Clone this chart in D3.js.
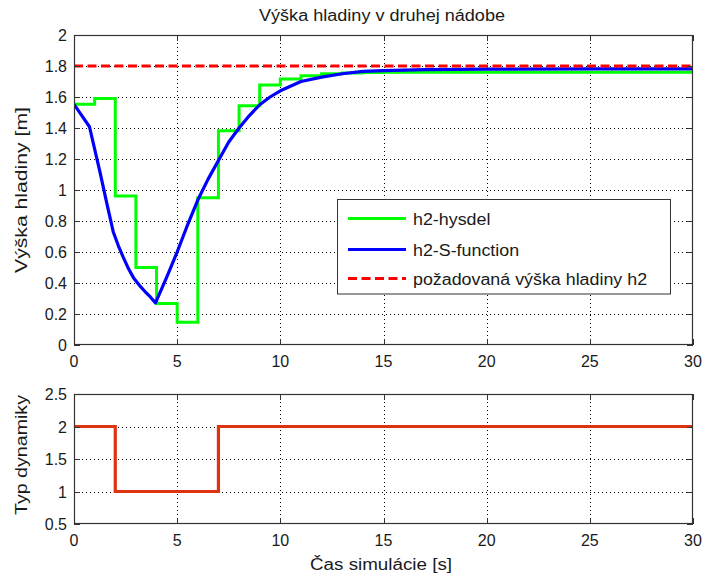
<!DOCTYPE html>
<html>
<head>
<meta charset="utf-8">
<script src="https://cdn.jsdelivr.net/npm/d3@7"></script>
<style>
  body { margin: 0; background: #fff; }
  svg { display: block; font-family: "Liberation Sans", Arial, sans-serif; }
</style>
</head>
<body>
<svg id="chart" width="705" height="579"></svg>
<script>
// ---------- data ----------
const titleText = "Výška hladiny v druhej nádobe";
const topYLabel = "Výška hladiny [m]";
const botYLabel = "Typ dynamiky";
const xLabel = "Čas simulácie [s]";

const xTicks = [0, 5, 10, 15, 20, 25, 30];
const topYTicks = [0, 0.2, 0.4, 0.6, 0.8, 1, 1.2, 1.4, 1.6, 1.8, 2];
const botYTicks = [0.5, 1, 1.5, 2, 2.5];

// h2-hysdel (zero-order hold, one value per second)
const hysdelT = [0, 1, 2, 3, 4, 5, 6, 7, 8, 9, 10, 11, 12, 13, 14, 15, 16, 17, 18, 19, 20, 21, 22, 23, 24, 25, 26, 27, 28, 29, 30];
const hysdelV = [1.553, 1.591, 0.962, 0.50, 0.268, 0.146, 0.950, 1.383, 1.544, 1.677, 1.716, 1.737, 1.750, 1.755, 1.758, 1.759, 1.760, 1.760, 1.760, 1.760, 1.760, 1.760, 1.760, 1.760, 1.760, 1.760, 1.760, 1.760, 1.760, 1.760, 1.760];

// h2-S-function (continuous)
const sfunT = [0, 0.75, 1.26, 1.58, 1.9, 2.15, 2.39, 2.65, 2.9, 3.17, 3.44, 3.7, 3.95, 4.49, 5, 5.46, 6, 6.5, 7, 7.5, 8, 8.5, 9, 9.5, 10, 11, 12, 13, 14, 15, 17, 20, 25, 30];
const sfunV = [1.553, 1.408, 1.115, 0.92, 0.731, 0.64, 0.565, 0.49, 0.43, 0.385, 0.345, 0.31, 0.272, 0.437, 0.60, 0.76, 0.935, 1.07, 1.19, 1.31, 1.40, 1.48, 1.55, 1.60, 1.64, 1.70, 1.728, 1.75, 1.765, 1.770, 1.777, 1.780, 1.782, 1.782];

// required level
const refT = [0, 30];
const refV = [1.8, 1.8];

// dynamics type
const dynT = [0, 2, 7, 30];
const dynV = [2, 1, 2, 2];

const legendLabels = ["h2-hysdel", "h2-S-function", "požadovaná výška hladiny h2"];

// ---------- layout ----------
const svg = d3.select("#chart");
const L = 74, R = 693;
const top1 = 35, bot1 = 345;
const top2 = 394, bot2 = 524;
const frameColor = "#333";
const textColor = "#1a1a1a";
const tickLen = 6;

const x = d3.scaleLinear().domain([0, 30]).range([L, R]);
const y1 = d3.scaleLinear().domain([0, 2]).range([bot1, top1]);
const y2 = d3.scaleLinear().domain([0.5, 2.5]).range([bot2, top2]);

function fmt(v) { return d3.format("~g")(+v.toFixed(2)); }

function stretch(sel, factor) {
  sel.each(function () {
    const w = this.getComputedTextLength();
    d3.select(this).attr("textLength", w * factor).attr("lengthAdjust", "spacingAndGlyphs");
  });
  return sel;
}

function drawAxes(yScale, yTicks, topY, botY, id) {
  const g = svg.append("g");
  svg.append("clipPath").attr("id", id).append("rect")
    .attr("x", L).attr("y", topY).attr("width", R - L).attr("height", botY - topY);
  const grid = g.append("g").attr("stroke", "#000").attr("stroke-width", 1)
    .attr("stroke-dasharray", "1,3").attr("fill", "none");
  xTicks.slice(1, -1).forEach(t => {
    grid.append("line").attr("x1", Math.round(x(t)) + 0.5).attr("x2", Math.round(x(t)) + 0.5)
      .attr("y1", topY).attr("y2", botY);
  });
  yTicks.slice(1, -1).forEach(t => {
    grid.append("line").attr("y1", Math.round(yScale(t)) + 0.5).attr("y2", Math.round(yScale(t)) + 0.5)
      .attr("x1", L).attr("x2", R);
  });
  return g;
}

function drawFrame(yScale, yTicks, topY, botY) {
  const g = svg.append("g");
  const tk = g.append("g").attr("stroke", frameColor).attr("stroke-width", 1);
  xTicks.forEach(t => {
    const px = Math.round(x(t)) + 0.5;
    tk.append("line").attr("x1", px).attr("x2", px).attr("y1", botY).attr("y2", botY - tickLen);
    tk.append("line").attr("x1", px).attr("x2", px).attr("y1", topY).attr("y2", topY + tickLen);
  });
  yTicks.forEach(t => {
    const py = Math.round(yScale(t)) + 0.5;
    tk.append("line").attr("y1", py).attr("y2", py).attr("x1", L).attr("x2", L + tickLen);
    tk.append("line").attr("y1", py).attr("y2", py).attr("x1", R).attr("x2", R - tickLen);
  });
  g.append("rect").attr("x", L + 0.5).attr("y", topY + 0.5)
    .attr("width", R - L - 1).attr("height", botY - topY - 1)
    .attr("fill", "none").attr("stroke", frameColor).attr("stroke-width", 1.2);
  const lab = g.append("g").attr("font-size", 16).attr("fill", textColor);
  xTicks.forEach(t => {
    lab.append("text").attr("x", x(t)).attr("y", botY + 22)
      .attr("text-anchor", "middle").text(fmt(t));
  });
  yTicks.forEach(t => {
    lab.append("text").attr("x", L - 7).attr("y", yScale(t) + 6)
      .attr("text-anchor", "end").text(fmt(t));
  });
}

// ---------- top axes ----------
drawAxes(y1, topYTicks, top1, bot1, "clip1");
const plot1 = svg.append("g").attr("clip-path", "url(#clip1)");

const stair = d3.line().x((d, i) => x(hysdelT[i])).y(d => y1(d)).curve(d3.curveStepAfter);
plot1.append("path").attr("d", stair(hysdelV))
  .attr("fill", "none").attr("stroke", "#00ff00").attr("stroke-width", 3);

const smooth = d3.line().x((d, i) => x(sfunT[i])).y(d => y1(d)).curve(d3.curveLinear);
plot1.append("path").attr("d", smooth(sfunV))
  .attr("fill", "none").attr("stroke", "#0000ff").attr("stroke-width", 3.2)
  .attr("stroke-linejoin", "round");

const refLine = d3.line().x((d, i) => x(refT[i])).y(d => y1(d));
plot1.append("path").attr("d", refLine(refV))
  .attr("fill", "none").attr("stroke", "#ff0000").attr("stroke-width", 3)
  .attr("stroke-dasharray", "9,4.5");

drawFrame(y1, topYTicks, top1, bot1);

// ---------- bottom axes ----------
drawAxes(y2, botYTicks, top2, bot2, "clip2");
const plot2 = svg.append("g").attr("clip-path", "url(#clip2)");
const dynLine = d3.line().x((d, i) => x(dynT[i])).y(d => y2(d)).curve(d3.curveStepAfter);
plot2.append("path").attr("d", dynLine(dynV))
  .attr("fill", "none").attr("stroke", "#dd3311").attr("stroke-width", 3.2);
drawFrame(y2, botYTicks, top2, bot2);

// ---------- titles / labels ----------
svg.append("text").attr("x", 382).attr("y", 21).attr("text-anchor", "middle")
  .attr("font-size", 16).attr("fill", textColor).text(titleText)
  .attr("textLength", 246).attr("lengthAdjust", "spacingAndGlyphs");
svg.append("text").attr("x", 381).attr("y", 570).attr("text-anchor", "middle")
  .attr("font-size", 16).attr("fill", textColor).text(xLabel)
  .attr("textLength", 142).attr("lengthAdjust", "spacingAndGlyphs");
svg.append("text").attr("transform", `translate(27,${(top1 + bot1) / 2}) rotate(-90)`)
  .attr("text-anchor", "middle").attr("font-size", 16).attr("fill", textColor).text(topYLabel)
  .attr("textLength", 166).attr("lengthAdjust", "spacingAndGlyphs");
svg.append("text").attr("transform", `translate(27,${(top2 + bot2) / 2 - 4}) rotate(-90)`)
  .attr("text-anchor", "middle").attr("font-size", 16).attr("fill", textColor).text(botYLabel)
  .attr("textLength", 120).attr("lengthAdjust", "spacingAndGlyphs");

// ---------- legend ----------
const lg = svg.append("g");
lg.append("rect").attr("x", 337.5).attr("y", 199.5).attr("width", 333).attr("height", 94.5)
  .attr("fill", "#fff").attr("stroke", frameColor).attr("stroke-width", 1);
const legStyles = [
  { color: "#00ff00", dash: null },
  { color: "#0000ff", dash: null },
  { color: "#ff0000", dash: "9,4.5" }
];
const legY = [218.5, 249.5, 278.5];
legendLabels.forEach((lbl, i) => {
  lg.append("line").attr("x1", 348).attr("x2", 406).attr("y1", legY[i]).attr("y2", legY[i])
    .attr("stroke", legStyles[i].color).attr("stroke-width", 3)
    .attr("stroke-dasharray", legStyles[i].dash);
  const t = lg.append("text").attr("x", 413).attr("y", legY[i] + 6).attr("font-size", 16)
    .attr("fill", textColor).text(lbl);
  stretch(t, 1.115);
});
</script>
</body>
</html>
